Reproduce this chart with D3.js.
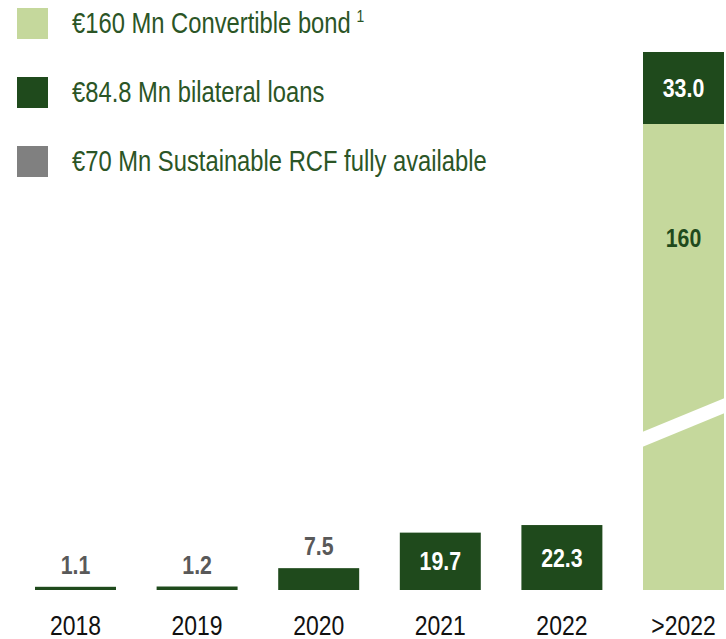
<!DOCTYPE html>
<html><head><meta charset="utf-8">
<script src="https://cdn.jsdelivr.net/npm/d3@7"></script>
<style>
body{margin:0;background:#fff;}
svg{display:block;}
text{font-family:"Liberation Sans","Arial",sans-serif;}
</style></head>
<body>
<svg id="c" width="726" height="639"></svg>
<script>
const categories = ["2018","2019","2020","2021","2022",">2022"];
const bilateral = [1.1, 1.2, 7.5, 19.7, 22.3, 33.0];
const convertible = [0, 0, 0, 0, 0, 160];
const bilateralLabels = ["1.1","1.2","7.5","19.7","22.3","33.0"];
const convertibleLabels = ["","","","","","160"];
const legendLabels = ["€160 Mn Convertible bond","€84.8 Mn bilateral loans","€70 Mn Sustainable RCF fully available"];
const legendColors = ["#c5d89c","#1f4a1c","#808080"];

const lightGreen = "#c5d89c", darkGreen = "#1f4a1c";
const NARROW = 0.82;
const svg = d3.select("#c");

const x = d3.scaleBand().domain(categories).range([-5.6, 764.6]).padding(0.334);
// broken axis: top segment above the convertible bond compressed
const y = d3.scaleLinear().domain([0, 160, 193]).range([590, 124, 52]);

const data = categories.map((c,i)=>({c, conv:convertible[i], bil:bilateral[i], bl:bilateralLabels[i], cl:convertibleLabels[i]}));

function ntext(parent, tx, ty, str, size, opts={}) {
  const t = parent.append("text")
    .attr("transform", `translate(${tx},${ty}) scale(${NARROW},1)`)
    .attr("font-size", size)
    .attr("text-anchor", opts.anchor || "start")
    .attr("font-weight", opts.weight || "normal")
    .attr("fill", opts.fill || "#000")
    .text(str);
  return t;
}

// convertible segment
svg.selectAll("rect.conv").data(data.filter(d=>d.conv>0)).enter().append("rect")
  .attr("x", d=>x(d.c)).attr("width", x.bandwidth())
  .attr("y", d=>y(d.conv)).attr("height", d=>y(0)-y(d.conv))
  .attr("fill", lightGreen);
// bilateral segment
svg.selectAll("rect.bil").data(data).enter().append("rect")
  .attr("x", d=>x(d.c)).attr("width", x.bandwidth())
  .attr("y", d=>y(d.conv + d.bil)).attr("height", d=>y(d.conv)-y(d.conv+d.bil))
  .attr("fill", darkGreen);

// axis break on the tall bar
data.filter(d=>d.conv>0).forEach(d=>{
  const x0 = x(d.c) - 2, x1 = x(d.c) + x.bandwidth() + 4;
  const yl = y(51.5), yr = y(63.5), t = 15;
  svg.append("polygon")
    .attr("points", [[x0, yl-t/2],[x1, yr-t/2-1],[x1, yr+t/2-1],[x0, yl+t/2]].map(p=>p.join(",")).join(" "))
    .attr("fill","#fff");
});

// value labels
data.forEach(d=>{
  const cx = x(d.c) + x.bandwidth()/2;
  const top = y(d.conv + d.bil), bot = y(d.conv);
  const inside = (bot - top) > 40;
  ntext(svg, cx, inside ? (top + bot)/2 + 9 : top - 13, d.bl, 26,
    {anchor:"middle", weight:"bold", fill: inside ? "#fff" : "#595959"});
  if (d.cl) {
    ntext(svg, cx, y(d.conv) + 123, d.cl, 26, {anchor:"middle", weight:"bold", fill: darkGreen});
  }
});

// x axis labels
const xAxis = d3.axisBottom(x).tickSize(0).tickPadding(0);
const gx = svg.append("g").attr("transform", `translate(0,${y(0)})`).call(xAxis);
gx.select(".domain").remove();
gx.selectAll("text").attr("font-size", 28).attr("fill","#111")
  .attr("y", 45).attr("dy", 0)
  .attr("transform", `scale(${NARROW},1)`)
  .style("font-family", '"Liberation Sans",Arial,sans-serif');

// legend
const lg = svg.append("g");
legendLabels.forEach((t,i)=>{
  const yy = 8 + i*69;
  lg.append("rect").attr("x",17).attr("y",yy).attr("width",31).attr("height",31).attr("fill",legendColors[i]);
  const tx = ntext(lg, 72, yy+25, t, 29, {fill:"#2b5526"});
  if (i===0) tx.append("tspan").attr("dx",7).attr("dy",-11).attr("font-size",17).text("1");
});
</script>
</body></html>
